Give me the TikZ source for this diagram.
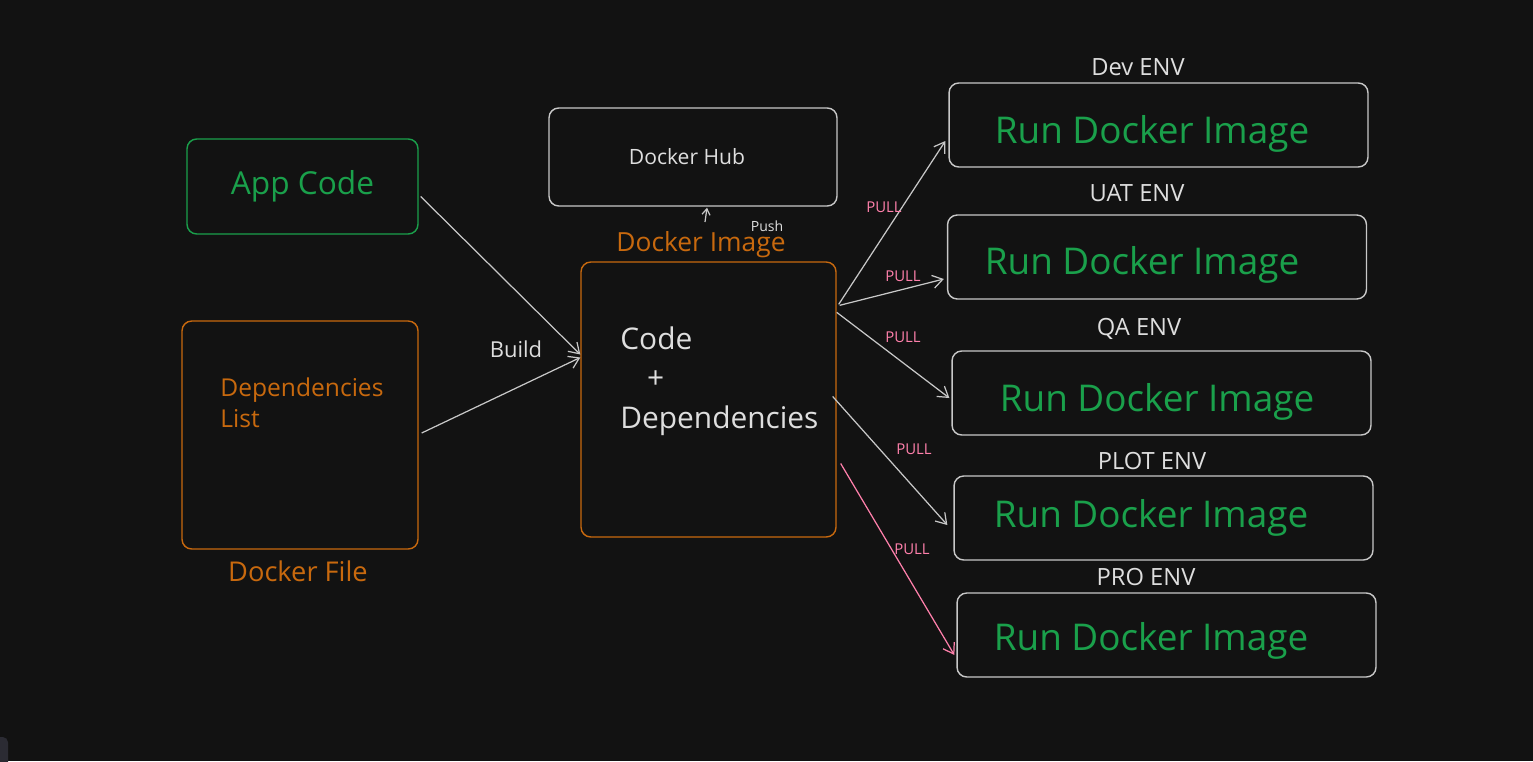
\documentclass[tikz,border=0pt]{standalone}
\usepackage{fontspec}
\setmainfont{Open Sans}
\usetikzlibrary{arrows.meta,calc}
\definecolor{bg}{HTML}{121212}
\definecolor{codegreen}{HTML}{1AA04B}
\definecolor{fileorange}{HTML}{C8690E}
\definecolor{linegray}{HTML}{C8C8C8}
\definecolor{textwhite}{HTML}{DEDEDE}
\definecolor{pullpink}{HTML}{FF80AB}
\definecolor{tabgray}{HTML}{2B2B33}

\begin{document}
\begin{tikzpicture}[x=0.02cm, y=-0.02cm,
  box/.style={draw, rounded corners=5.5pt, line width=0.8pt, inner sep=0pt},
  envbox/.style={box, draw=linegray, minimum width=8.38cm, minimum height=1.68cm},
  envtext/.style={text=codegreen, font=\fontsize{21}{25}\selectfont},
  envtitle/.style={text=textwhite, font=\fontsize{13.5}{16}\selectfont},
  arr/.style={-{Straight Barb[length=2mm,width=2.6mm]}, line width=0.7pt, draw=linegray},
  pull/.style={text=pullpink, font=\fontsize{8.5}{10}\selectfont}]
\fill[bg](0, 0) rectangle (1533, 761);
\useasboundingbox (0, 0) rectangle (1533, 761);
\fill[tabgray, rounded corners=3pt](-10, 737) rectangle (8, 780);

% inputs
\node [box, draw=codegreen, minimum width=4.62cm, minimum height=1.9cm, text=codegreen, font=\fontsize{18}{21}\selectfont] (app) at (302.5, 186.5) {App Code};
\node [box, draw=fileorange, minimum width=4.72cm, minimum height=4.56cm] (deps) at (300, 435) {};
\node [anchor=north west, align=left, inner sep=0pt, text=fileorange, font=\fontsize{14}{18}\selectfont] (depstext) at (220, 377) {Dependencies\\List};
\node [text=fileorange, font=\fontsize{15.5}{18}\selectfont] (depslbl) at (298, 571) {Docker File};

% image and hub
\node [box, draw=linegray, minimum width=5.76cm, minimum height=1.96cm] (hub) at (693, 157) {};
\node [text=textwhite, font=\fontsize{12}{14}\selectfont] (hubtext) at (687, 157) {Docker Hub};
\node [box, draw=fileorange, minimum width=5.1cm, minimum height=5.5cm] (img) at (708.5, 399.5) {};
\node [anchor=north west, align=left, inner sep=0pt, text=textwhite, font=\fontsize{17}{22.5}\selectfont] (imgtext) at (620, 326) {Code\\\hspace*{0.9em}+\\Dependencies};
\node [text=fileorange, font=\fontsize{15}{18}\selectfont] (imglbl) at (701, 245) {Docker Image};
\node [text=textwhite, font=\fontsize{8}{10}\selectfont] (pushlbl) at (767, 226) {Push};
\coordinate (pushfoot) at (705, 222);

% build
\draw [arr] ($(app.east)+(2, 10)$) -- ($(img.west)+(0, -45)$);
\draw [arr] ($(deps.east)+(3, -2)$) -- ($(img.west)+(0, -42)$);
\node [text=textwhite, font=\fontsize{12.5}{15}\selectfont] (buildlbl) at (516, 349) {Build};
\draw [arr, -{Straight Barb[length=1.2mm,width=1.6mm]}] (pushfoot) -- ($(hub.south)+(14, 1)$);

% environments
\node [envtitle] (devt) at (1138, 67) {Dev ENV};
\node [envbox] (dev) at (1158.5, 125) {};
\node [envtext] (devtext) at (1152, 134) {Run Docker Image};
\node [envtitle] (uatt) at (1137, 193) {UAT ENV};
\node [envbox] (uat) at (1157, 257) {};
\node [envtext] (uattext) at (1142, 265) {Run Docker Image};
\node [envtitle] (qat) at (1139, 329) {QA ENV};
\node [envbox] (qa) at (1161.5, 393) {};
\node [envtext] (qatext) at (1157, 402) {Run Docker Image};
\node [envtitle] (plott) at (1152, 461) {PLOT ENV};
\node [envbox] (plot) at (1163.5, 518) {};
\node [envtext] (plottext) at (1151, 518) {Run Docker Image};
\node [envtitle] (prot) at (1146, 577) {PRO ENV};
\node [envbox] (pro) at (1166.5, 635) {};
\node [envtext] (protext) at (1151, 641) {Run Docker Image};

% pulls
\draw [arr] ($(img.north east)+(2, 43)$) -- ($(dev.west)+(-3, 16)$);
\draw [arr] ($(img.north east)+(3, 44)$) -- ($(uat.west)+(-3, 22)$);
\draw [arr] ($(img.north east)+(0, 51)$) -- ($(qa.west)+(-2, 5)$);
\draw [arr] ($(img.east)+(-4, -3)$) -- ($(plot.west)+(-6, 7)$);
\draw [arr, draw=pullpink] ($(img.east)+(4, 64)$) -- ($(pro.west)+(-2, 20)$);
\node [pull] (pulla) at (884, 207) {PULL};
\node [pull] (pullb) at (903, 276) {PULL};
\node [pull] (pullc) at (903, 337) {PULL};
\node [pull] (pulld) at (914, 449) {PULL};
\node [pull] (pulle) at (912, 549) {PULL};
\end{tikzpicture}
\end{document}
